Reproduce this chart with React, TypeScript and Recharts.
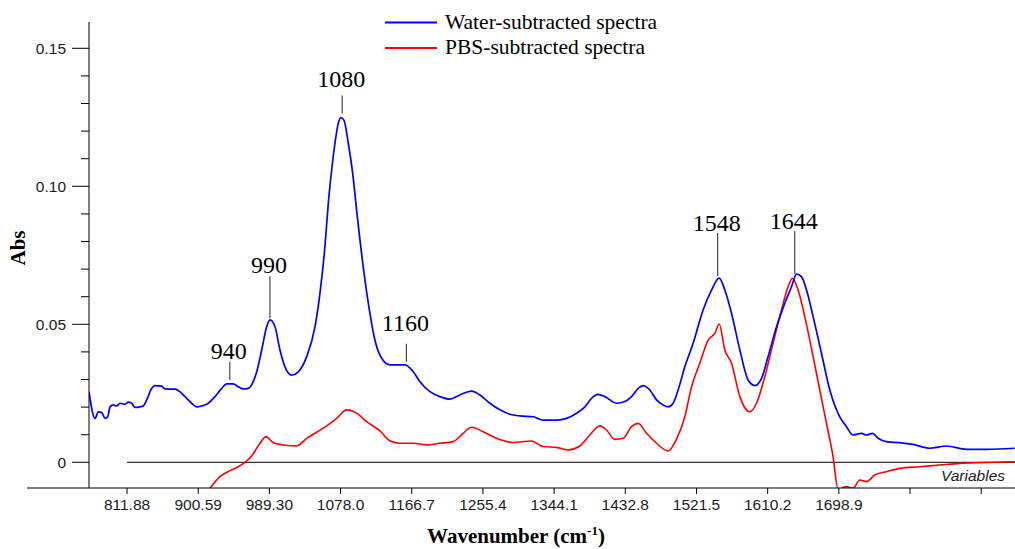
import React from 'react';
import { LineChart, Line, XAxis, YAxis, ReferenceLine, ReferenceDot } from 'recharts';

// Water-subtracted spectrum (wavenumber, absorbance)
const waterWavenumber = [
  764.5, 772.0, 776.1, 780.4, 784.5, 787.8, 790.7, 794.8, 799.0, 803.2, 809.4, 813.5, 817.7, 821.8,
  828.1, 832.2, 836.4, 842.7, 846.8, 855.1, 859.2, 871.7, 880.0, 884.1, 892.5, 898.7, 904.9, 913.2,
  921.5, 929.9, 936.1, 944.3, 950.5, 956.8, 963.0, 969.2, 973.5, 979.7, 985.9, 990.0, 996.3, 1002.5,
  1008.7, 1017.1, 1025.3, 1035.8, 1046.1, 1052.3, 1058.5, 1062.7, 1066.9, 1071.0, 1075.1, 1078.5,
  1082.2, 1087.6, 1093.1, 1098.0, 1102.2, 1108.4, 1114.6, 1120.8, 1129.2, 1139.5, 1158.2, 1168.6,
  1176.9, 1189.4, 1201.8, 1214.3, 1226.7, 1241.3, 1251.6, 1264.1, 1276.6, 1289.0, 1301.5, 1318.1,
  1330.5, 1347.2, 1359.7, 1372.1, 1382.5, 1390.8, 1399.0, 1407.4, 1422.0, 1432.3, 1440.6, 1448.9,
  1455.1, 1463.4, 1471.8, 1480.0, 1486.2, 1492.5, 1498.7, 1507.0, 1517.4, 1529.8, 1540.3, 1549.8,
  1556.9, 1565.2, 1575.6, 1585.9, 1594.3, 1602.6, 1610.8, 1621.3, 1631.6, 1640.0, 1646.2, 1652.4,
  1658.7, 1666.9, 1677.3, 1687.7, 1700.1, 1708.5, 1716.7, 1727.2, 1733.4, 1740.9, 1747.9, 1758.3,
  1774.9, 1791.5, 1812.3, 1833.1, 1858.0, 1882.9, 1918.1,
];
const waterAbs = [
  0.0256, 0.0159, 0.0183, 0.0180, 0.0159, 0.0165, 0.0201, 0.0208, 0.0204, 0.0214, 0.0210, 0.0218, 0.0214, 0.0199,
  0.0201, 0.0204, 0.0226, 0.0268, 0.0278, 0.0276, 0.0266, 0.0265, 0.0250, 0.0238, 0.0214, 0.0201, 0.0204, 0.0214,
  0.0238, 0.0268, 0.0284, 0.0284, 0.0274, 0.0266, 0.0268, 0.0292, 0.0328, 0.0407, 0.0491, 0.0516, 0.0491, 0.0407,
  0.0346, 0.0316, 0.0328, 0.0383, 0.0491, 0.0612, 0.0781, 0.0938, 0.1059, 0.1156, 0.1228, 0.1249,
  0.1240, 0.1156, 0.1047, 0.0914, 0.0805, 0.0661, 0.0540, 0.0443, 0.0377, 0.0353, 0.0353, 0.0328,
  0.0292, 0.0256, 0.0238, 0.0229, 0.0244, 0.0258, 0.0244, 0.0214, 0.0190, 0.0174, 0.0168, 0.0165,
  0.0153, 0.0153, 0.0159, 0.0178, 0.0201, 0.0232, 0.0246, 0.0238, 0.0214, 0.0220, 0.0238, 0.0268,
  0.0278, 0.0262, 0.0226, 0.0208, 0.0201, 0.0214, 0.0262, 0.0346, 0.0431, 0.0552, 0.0624, 0.0667,
  0.0624, 0.0540, 0.0407, 0.0298, 0.0278, 0.0304, 0.0383, 0.0491, 0.0576, 0.0636, 0.0682, 0.0673,
  0.0624, 0.0528, 0.0395, 0.0262, 0.0165, 0.0129, 0.0099, 0.0105, 0.0099, 0.0105, 0.0087, 0.0075,
  0.0071, 0.0065, 0.0051, 0.0059, 0.0047, 0.0047, 0.0051,
];

// PBS-subtracted spectrum (wavenumber, absorbance)
const pbsWavenumber = [
  902.8, 915.3, 927.7, 940.2, 950.5, 967.2, 977.6, 985.1, 994.1, 1006.6, 1023.3, 1035.8, 1048.2,
  1060.7, 1073.1, 1085.6, 1098.0, 1110.5, 1127.1, 1139.5, 1152.0, 1168.6, 1185.2, 1201.8, 1218.4,
  1230.8, 1241.3, 1255.8, 1272.4, 1293.1, 1316.1, 1330.5, 1347.2, 1361.6, 1376.2, 1388.7, 1401.1,
  1409.5, 1419.8, 1430.2, 1440.6, 1448.9, 1459.3, 1471.8, 1486.2, 1496.7, 1507.0, 1515.4, 1525.7,
  1536.1, 1544.4, 1549.8, 1556.9, 1565.2, 1575.6, 1588.0, 1596.4, 1606.7, 1617.0, 1627.5, 1635.7,
  1641.2, 1648.2, 1656.5, 1666.9, 1675.2, 1683.6, 1691.8, 1698.0, 1708.5, 1716.7, 1725.0, 1733.4,
  1743.7, 1758.3, 1774.9, 1799.8, 1824.7, 1849.6, 1874.5, 1918.1,
];
const pbsAbs = [
  -0.0137, -0.0094, -0.0052, -0.0030, -0.0016, 0.0023, 0.0069, 0.0093, 0.0071, 0.0063, 0.0059, 0.0087, 0.0109,
  0.0132, 0.0159, 0.0190, 0.0178, 0.0147, 0.0114, 0.0078, 0.0069, 0.0069, 0.0063, 0.0069, 0.0075,
  0.0105, 0.0127, 0.0111, 0.0087, 0.0072, 0.0077, 0.0057, 0.0054, 0.0045, 0.0059, 0.0099, 0.0132,
  0.0117, 0.0083, 0.0087, 0.0129, 0.0141, 0.0105, 0.0069, 0.0041, 0.0084, 0.0165, 0.0274, 0.0359,
  0.0443, 0.0467, 0.0501, 0.0407, 0.0359, 0.0238, 0.0183, 0.0214, 0.0310, 0.0431, 0.0552, 0.0636,
  0.0667, 0.0624, 0.0528, 0.0383, 0.0262, 0.0141, 0.0020, -0.0098, -0.0088, -0.0094, -0.0064, -0.0070,
  -0.0046, -0.0034, -0.0022, -0.0016, -0.0010, -0.0004, -0.0001, 0.0002,
];

// Axis ticks
const xTickValues = [
  811.88, 900.59, 989.30, 1078.01, 1166.72, 1255.43, 1344.14, 1432.85, 1521.56, 1610.27, 1698.98,
  1787.69, 1876.40,
];
const xTickLabels = [
  '811.88', '900.59', '989.30', '1078.0', '1166.7', '1255.4', '1344.1', '1432.8', '1521.5', '1610.2',
  '1698.9', '', '',
];
const yTickValues = [0, 0.01, 0.02, 0.03, 0.04, 0.05, 0.06, 0.07, 0.08, 0.09, 0.1, 0.11, 0.12, 0.13, 0.14, 0.15];
const yMajorValues = [0, 0.05, 0.1, 0.15];
const yMajorLabels = ['0', '0.05', '0.10', '0.15'];

// Peak annotations: band position and the absorbance where the marker stem ends
const peakLabels = [940, 990, 1080, 1160, 1548, 1644];
const peakTipAbs = [0.0298, 0.0522, 0.1264, 0.0364, 0.0675, 0.0682];

const legendNames = ['Water-subtracted spectra', 'PBS-subtracted spectra'];

const X_DOMAIN: [number, number] = [764.5, 1918.5];
const Y_DOMAIN: [number, number] = [-0.00931, 0.15953];

const BLUE = '#0000ff';
const RED = '#ff0000';
const SANS = '"Liberation Sans", Arial, sans-serif';
const SERIF = '"Liberation Serif", "Times New Roman", serif';

const waterData = waterWavenumber.map((wn, i) => ({ wn, abs: waterAbs[i] }));
const pbsData = pbsWavenumber.map((wn, i) => ({ wn, abs: pbsAbs[i] }));

// stem length and gap between stem top and label baseline, per annotation
const stemLength = [18, 42, 18, 18, 43, 43];
const labelGap = [3.5, 3.5, 8, 13, 2, 2];

function renderYTick(props: any) {
  const { x, y, payload } = props;
  const v = payload.value as number;
  const idx = yMajorValues.findIndex((m) => Math.abs(m - v) < 1e-9);
  const major = idx >= 0;
  const len = major ? 17 : 8;
  return (
    <g>
      <line x1={x - len} x2={x} y1={y} y2={y} stroke="#000" strokeWidth={1} />
      {major && (
        <text x={x - 23} y={y} dy="0.36em" textAnchor="end" fontFamily={SANS} fontSize={15.5} fill="#1a1a1a">
          {yMajorLabels[idx]}
        </text>
      )}
    </g>
  );
}

function renderXTick(props: any) {
  const { x, y, payload } = props;
  const idx = xTickValues.findIndex((t) => Math.abs(t - payload.value) < 1e-6);
  return (
    <g>
      <line x1={x} x2={x} y1={y} y2={y + 6} stroke="#000" strokeWidth={1} />
      <text x={x} y={y + 22} textAnchor="middle" fontFamily={SANS} fontSize={15.5} fill="#1a1a1a">
        {idx >= 0 ? xTickLabels[idx] : ''}
      </text>
    </g>
  );
}

function PeakMarker(props: any) {
  const { cx, cy, label, stem, gap } = props;
  if (cx == null || cy == null) return null;
  return (
    <g>
      <line x1={cx} x2={cx} y1={cy} y2={cy - stem} stroke="#222" strokeWidth={1} />
      <text x={cx - 1} y={cy - stem - gap} textAnchor="middle" fontFamily={SERIF} fontSize={24} fill="#000">
        {label}
      </text>
    </g>
  );
}

export default function App() {
  return (
    <div style={{ position: 'absolute', left: 0, top: 0, width: 1015, height: 549, background: '#fff' }}>
      <LineChart
        width={1015}
        height={549}
        margin={{ top: 22, right: 0, bottom: 0, left: 0 }}
      >
        <XAxis
          type="number"
          dataKey="wn"
          domain={X_DOMAIN}
          allowDataOverflow
          ticks={xTickValues}
          interval={0}
          height={61}
          tickSize={0}
          tickMargin={0}
          tickLine={false}
          axisLine={{ stroke: '#000', strokeWidth: 1 }}
          tick={renderXTick}
          label={{
            content: () => (
              <text x={516} y={543} textAnchor="middle" fontFamily={SERIF} fontSize={21} fontWeight="bold" fill="#000">
                Wavenumber (cm
                <tspan fontSize={13} dy={-8}>-1</tspan>
                <tspan dy={8}>)</tspan>
              </text>
            ),
          }}
        />
        <YAxis
          type="number"
          domain={Y_DOMAIN}
          allowDataOverflow
          ticks={yTickValues}
          interval={0}
          width={89}
          tickSize={0}
          tickMargin={0}
          tickLine={false}
          axisLine={{ stroke: '#000', strokeWidth: 1 }}
          tick={renderYTick}
          label={{
            content: () => (
              <text
                transform="translate(25,248) rotate(-90)"
                textAnchor="middle"
                fontFamily={SERIF}
                fontSize={21}
                fontWeight="bold"
                fill="#000"
              >
                Abs
              </text>
            ),
          }}
        />
        <ReferenceLine
          segment={[
            { x: xTickValues[0], y: 0 },
            { x: X_DOMAIN[1], y: 0 },
          ]}
          stroke="#333"
          strokeWidth={1.2}
          ifOverflow="visible"
          label={{
            content: (p: any) => {
              const vb = p.viewBox || {};
              const right = (vb.x ?? 0) + (vb.width ?? 0);
              const yy = vb.y ?? 0;
              return (
                <text x={right - 10} y={yy + 19} textAnchor="end" fontFamily={SANS} fontStyle="italic" fontSize={15.5} fill="#1a1a1a">
                  Variables
                </text>
              );
            },
          }}
        />
        <Line
          data={pbsData}
          dataKey="abs"
          type="monotone"
          stroke={RED}
          strokeWidth={1.6}
          dot={false}
          isAnimationActive={false}
        />
        <Line
          data={waterData}
          dataKey="abs"
          type="monotone"
          stroke={BLUE}
          strokeWidth={1.7}
          dot={false}
          isAnimationActive={false}
        />
        {peakLabels.map((wn, i) => (
          <ReferenceDot
            key={wn}
            x={wn}
            y={peakTipAbs[i]}
            r={0}
            ifOverflow="visible"
            shape={(p: any) => (
              <PeakMarker cx={p.cx} cy={p.cy} label={String(wn)} stem={stemLength[i]} gap={labelGap[i]} />
            )}
          />
        ))}
      </LineChart>
      <svg
        width={1015}
        height={549}
        style={{ position: 'absolute', left: 0, top: 0, pointerEvents: 'none' }}
      >
        {/* x axis line continues to the left of the value axis */}
        <line x1={27} x2={89} y1={488} y2={488} stroke="#000" strokeWidth={1} />
        {/* legend */}
        <line x1={385} x2={437} y1={22.5} y2={22.5} stroke={BLUE} strokeWidth={2} />
        <text x={445} y={28.5} fontFamily={SERIF} fontSize={21.5} fill="#000">
          {legendNames[0]}
        </text>
        <line x1={385} x2={437} y1={48} y2={48} stroke={RED} strokeWidth={2} />
        <text x={445} y={53.5} fontFamily={SERIF} fontSize={21.5} fill="#000">
          {legendNames[1]}
        </text>
      </svg>
    </div>
  );
}
